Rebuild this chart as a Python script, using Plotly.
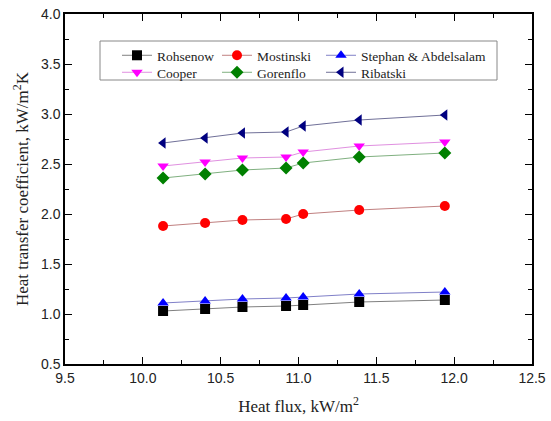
import plotly.graph_objects as go

heat_flux = [10.13, 10.40, 10.64, 10.92, 11.03, 11.39, 11.94]
rohsenow = [1.03, 1.05, 1.07, 1.08, 1.09, 1.12, 1.14]
mostinski = [1.88, 1.91, 1.94, 1.95, 2.00, 2.04, 2.08]
stephan = [1.11, 1.13, 1.15, 1.16, 1.17, 1.20, 1.22]
cooper = [2.48, 2.52, 2.56, 2.57, 2.62, 2.68, 2.72]
gorenflo = [2.36, 2.40, 2.44, 2.46, 2.51, 2.57, 2.61]
ribatski = [2.71, 2.76, 2.81, 2.82, 2.88, 2.94, 2.99]

series = [
    ("Rohsenow", rohsenow, "square", "#000000", "#808080"),
    ("Mostinski", mostinski, "circle", "#ff0000", "#c08080"),
    ("Stephan & Abdelsalam", stephan, "triangle-up", "#0000ff", "#8080c8"),
    ("Cooper", cooper, "triangle-down", "#ff00ff", "#e090e0"),
    ("Gorenflo", gorenflo, "diamond", "#008000", "#80b080"),
    ("Ribatski", ribatski, "triangle-left", "#000080", "#707098"),
]

# legend slots (pixel positions of each entry: column start, row centre)
col_px = [117, 217, 321]
row_px = [55.5, 72.5]

fig = go.Figure()
legends = {}
for i, (name, vals, sym, mc, lc) in enumerate(series):
    lg = "legend" if i == 0 else f"legend{i + 1}"
    fig.add_trace(go.Scatter(
        x=heat_flux, y=vals, name=name, mode="lines+markers", legend=lg,
        line=dict(color=lc, width=1),
        marker=dict(symbol=sym, color=mc, size=10, line=dict(width=0)),
    ))
    r, c = divmod(i, 3)
    legends[lg] = dict(
        x=(col_px[c] - 65) / 467, y=1 - (row_px[r] - 14) / 350,
        xanchor="left", yanchor="middle", orientation="v",
        borderwidth=0, bgcolor="rgba(0,0,0,0)",
        font=dict(family="Liberation Serif", size=13.5, color="#222"),
        itemwidth=30, tracegroupgap=0,
    )

axis_common = dict(
    showline=True, linecolor="#000", linewidth=1.5, mirror="allticks",
    ticks="inside", ticklen=7, tickwidth=1, tickcolor="#000",
    showgrid=False, zeroline=False, automargin=False,
    tickfont=dict(family="Liberation Sans", size=14, color="#222"),
    minor=dict(ticks="inside", ticklen=4, tickcolor="#000", showgrid=False, dtick=0.25),
)

fig.update_xaxes(range=[9.5, 12.5], dtick=0.5, tick0=9.5, tickformat=".1f",
                 title=dict(text="Heat flux, kW/m<sup>2</sup>",
                            font=dict(family="Liberation Serif", size=17, color="#222"),
                            standoff=16),
                 **axis_common)
fig.update_yaxes(range=[0.5, 4.0], dtick=0.5, tick0=0.5, tickformat=".1f",
                 title=dict(text="Heat transfer coefficient, kW/m<sup>2</sup>K",
                            font=dict(family="Liberation Serif", size=17, color="#222"),
                            standoff=8),
                 **axis_common)

fig.update_layout(
    width=551, height=421,
    margin=dict(l=65, r=19, t=14, b=57),
    plot_bgcolor="white", paper_bgcolor="white",
    font=dict(family="Liberation Serif"),
    showlegend=True,
    shapes=[dict(type="rect", xref="paper", yref="paper",
                 x0=(100 - 65) / 467, x1=(497 - 65) / 467,
                 y0=1 - (80 - 14) / 350, y1=1 - (41 - 14) / 350,
                 line=dict(color="#888", width=1), fillcolor="white", layer="below")],
    **legends,
)

fig.write_html("out.html")
